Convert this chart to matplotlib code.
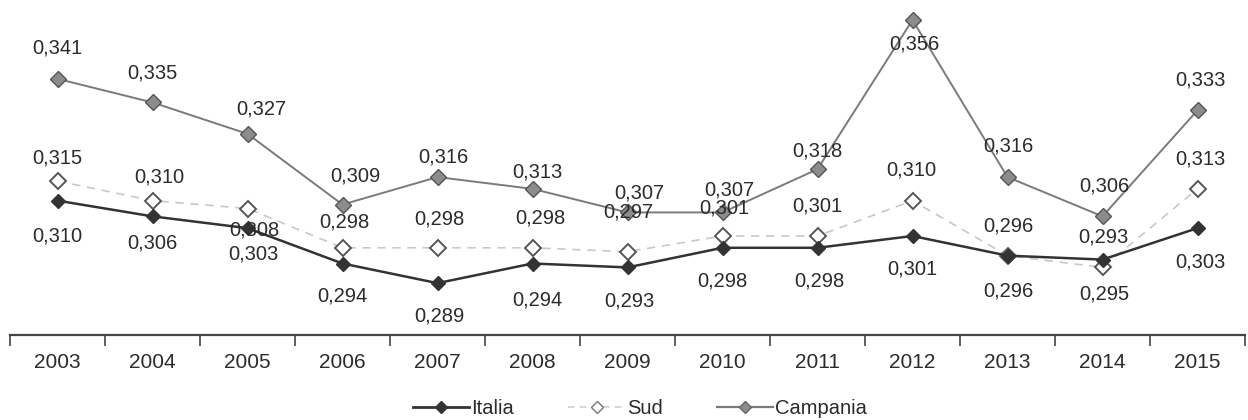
import matplotlib
matplotlib.use("Agg")
import matplotlib.pyplot as plt
from matplotlib.lines import Line2D

# Dati: indice per anno (Italia, Sud, Campania)
anni = ["2003", "2004", "2005", "2006", "2007", "2008", "2009",
        "2010", "2011", "2012", "2013", "2014", "2015"]
italia = [0.310, 0.306, 0.303, 0.294, 0.289, 0.294, 0.293,
          0.298, 0.298, 0.301, 0.296, 0.295, 0.303]
sud = [0.315, 0.310, 0.308, 0.298, 0.298, 0.298, 0.297,
       0.301, 0.301, 0.310, 0.296, 0.293, 0.313]
campania = [0.341, 0.335, 0.327, 0.309, 0.316, 0.313, 0.307,
            0.307, 0.318, 0.356, 0.316, 0.306, 0.333]

# spostamento delle etichette (pixel) rispetto al marker
off_italia = [(0, -35), (0, -27), (6, -26), (0, -32), (2, -33), (5, -36), (2, -34),
              (0, -33), (2, -33), (0, -33), (1, -35), (2, -34), (3, -34)]
off_sud = [(0, 23), (7, 24), (7, -21), (2, 26), (2, 29), (8, 30), (1, 40),
           (2, 28), (0, 30), (-1, 31), (1, 30), (1, 30), (3, 30)]
off_campania = [(0, 31), (0, 29), (14, 25), (13, 29), (6, 20), (5, 17), (12, 19),
                (7, 22), (0, 18), (2, -24), (1, 31), (2, 30), (3, 30)]

plt.rcParams['font.family'] = ['Liberation Sans', 'DejaVu Sans']
testo = '#2b2b2b'

fig = plt.figure(figsize=(12.48, 4.2), dpi=100)
ax = fig.add_axes([10 / 1248, 85 / 420, 1235 / 1248, 330 / 420])
x = list(range(len(anni)))

ax.plot(x, sud, color='#c8c8c8', lw=1.2, ls=(0, (5, 4)), marker='D', ms=8,
        mfc='white', mec='#555555', mew=1.4, zorder=2)
ax.plot(x, campania, color='#7a7a7a', lw=1.4, marker='D', ms=8,
        mfc='#8c8c8c', mec='#555555', mew=1.0, zorder=3)
ax.plot(x, italia, color='#333333', lw=1.8, marker='D', ms=7.5,
        mfc='#333333', mec='#333333', zorder=4)

def etichette(valori, offset):
    for i, v in enumerate(valori):
        dx, dy = offset[i]
        ax.annotate(f"{v:.3f}".replace('.', ','), (i, v), xytext=(dx, dy),
                    textcoords='offset pixels', ha='center', va='center',
                    fontsize=14.5, color=testo, zorder=5)

etichette(italia, off_italia)
etichette(sud, off_sud)
etichette(campania, off_campania)

ax.set_xlim(-0.5, len(anni) - 0.5)
ax.set_ylim(0.2758, 0.3598)
for s in ['top', 'left', 'right']:
    ax.spines[s].set_visible(False)
ax.spines['bottom'].set_color('#444444')
ax.spines['bottom'].set_linewidth(1.6)
ax.set_yticks([])
ax.set_xticks(x)
ax.set_xticklabels(anni, fontsize=15, color=testo)
ax.tick_params(axis='x', length=0, pad=13)
ax.set_xticks([i - 0.5 for i in range(len(anni) + 1)], minor=True)
ax.tick_params(axis='x', which='minor', length=8, width=1.2, color='#444444')

maniglie = [
    Line2D([], [], color='#333333', lw=2.0, marker='D', ms=6, mfc='#333333'),
    Line2D([], [], color='#d0d0d0', lw=1.2, ls=(0, (4, 3)), marker='D', ms=6,
           mfc='white', mec='#777777'),
    Line2D([], [], color='#7a7a7a', lw=1.6, marker='D', ms=6, mfc='#8c8c8c',
           mec='#666666'),
]
fig.legend(maniglie, ['Italia', 'Sud', 'Campania'], loc='center',
           bbox_to_anchor=(640 / 1248, 11 / 420), ncol=3, frameon=False,
           fontsize=14.5, handlelength=2.8, handletextpad=0.1,
           columnspacing=2.7, labelcolor=testo)

fig.savefig('out.png', dpi=100)
